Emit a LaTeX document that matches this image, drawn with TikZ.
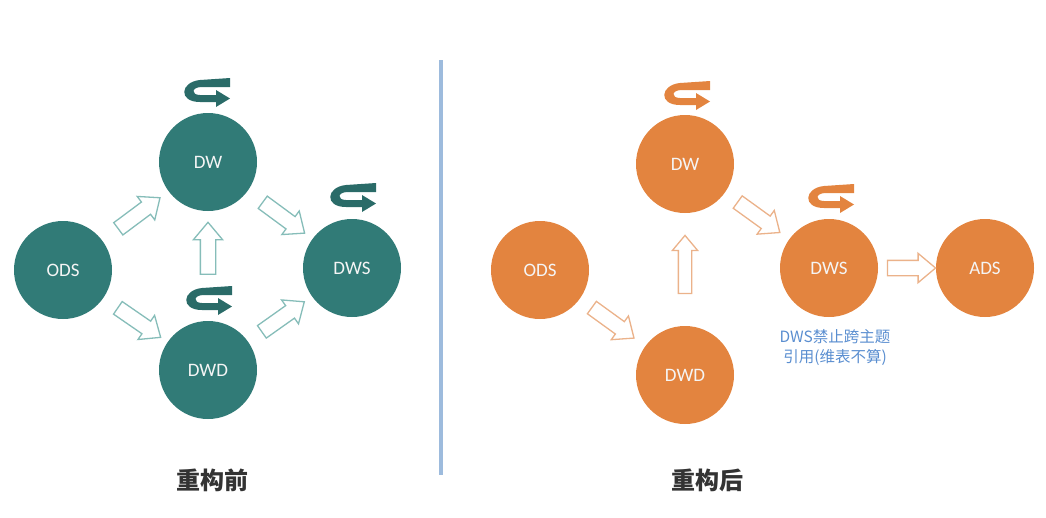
\documentclass[tikz,border=0pt]{standalone}
\usepackage{fontspec}
\setmainfont{Carlito}
\newfontfamily\cjk{Noto Sans CJK SC}
\usetikzlibrary{shapes.arrows}
\definecolor{teal1}{HTML}{317B77}
\definecolor{teal2}{HTML}{2A6B68}
\definecolor{tealline}{HTML}{86BDB9}
\definecolor{org1}{HTML}{E3843F}
\definecolor{org2}{HTML}{C9692A}
\definecolor{orgline}{HTML}{EBB28A}
\definecolor{divc}{HTML}{9DBBDD}
\definecolor{notec}{HTML}{5A8ED0}
\definecolor{capc}{HTML}{333333}
\tikzset{
  circ/.style={circle, minimum size=98pt, inner sep=0pt, text=white!92!gray, font=\fontsize{19}{21}\selectfont},
  tcirc/.style={circ, fill=teal1},
  ocirc/.style={circ, fill=org1},
  barrow/.style={single arrow, inner xsep=0pt, inner ysep=7pt, single arrow head extend=7pt,
     single arrow tip angle=80, minimum height=52pt, line width=1.3pt, fill=white, sloped},
  tarrow/.style={barrow, draw=tealline},
  oarrow/.style={barrow, draw=orgline},
  pics/rot/.style={code={
    \fill[#1] (24,-17) -- (-6,-15) .. controls (-26,-13) and (-28,7) .. (-6,7)
      -- (10,7) -- (10,12) -- (24,3.5) -- (10,-5) -- (10,0) -- (-6,0)
      .. controls (-15,0) and (-15,-8) .. (-4,-8) -- (24,-8) -- cycle;
  }},
  caption/.style={font=\cjk\bfseries\fontsize{24}{26}\selectfont, text=capc},
}
\begin{document}
\begin{tikzpicture}[x=1pt,y=-1pt]
\useasboundingbox (0,0) rectangle (1046,517);
% left
\node[tcirc] (lods) at (63,270) {ODS};
\node[tcirc] (ldw) at (208,162) {DW};
\node[tcirc] (ldwd) at (208,370) {DWD};
\node[tcirc] (ldws) at (352,268) {DWS};
\pic at (206,95) {rot=teal2};
\pic at (208,303) {rot=teal2};
\pic at (352,200) {rot=teal2};
\path (lods) -- node[tarrow] {} (ldw);
\path (ldw) -- node[tarrow] {} (ldws);
\path (ldwd) -- node[tarrow, pos=0.62] {} (ldw);
\path (lods) -- node[tarrow] {} (ldwd);
\path (ldwd) -- node[tarrow, pos=0.49] {} (ldws);
\node[caption] (lcap) at (212,480) {重构前};
% divider
\coordinate (dtop) at (441,60);
\coordinate (dbot) at (441,475);
\draw[divc, line width=3.5pt] (dtop) -- (dbot);
% right
\node[ocirc] (rods) at (540,270) {ODS};
\node[ocirc] (rdw) at (685,164) {DW};
\node[ocirc] (rdwd) at (685,375) {DWD};
\node[ocirc] (rdws) at (829,268) {DWS};
\node[ocirc] (rads) at (985,268) {ADS};
\pic at (686,98) {rot=org1};
\pic at (830,201) {rot=org1};
\path (rods) -- node[oarrow, pos=0.45] {} (rdwd);
\path (rdwd) -- node[oarrow, pos=0.51, inner ysep=6pt, single arrow head extend=6pt, minimum height=58pt] {} (rdw);
\path (rdw) -- node[oarrow, pos=0.47] {} (rdws);
\path (rdws) -- node[oarrow, minimum height=48pt] {} (rads);
\node[font=\cjk\fontsize{15.5}{20}\selectfont, text=notec, align=center] (note) at (835,347) {DWS禁止跨主题\\引用(维表不算)};
\node[caption] (rcap) at (707,480) {重构后};
\end{tikzpicture}
\end{document}
